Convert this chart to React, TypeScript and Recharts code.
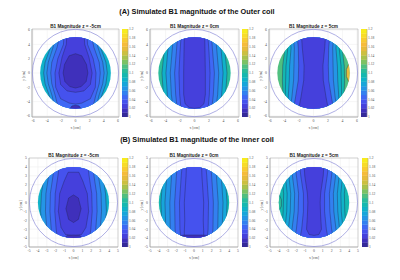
import React from 'react';
import {
  Bar,
  BarChart,
  CartesianGrid,
  Curve,
  ReferenceArea,
  Scatter,
  ScatterChart,
  XAxis,
  YAxis,
} from 'recharts';

type XY = [number, number];
interface Contour {
  level: number;
  half?: XY[]; // right side only, mirrored to the left
  full?: XY[];
}

// parula, one colour per 0.01 of B1 between 1.00 and 1.20
const PARULA = [
  '#352a9a', '#3f30bb', '#4540dc', '#4552ee', '#3f68f5', '#3380f0', '#2496e6',
  '#17a6da', '#10b2c8', '#14b8b0', '#2abc9c', '#50c080', '#7cc264', '#a8c24c',
  '#ccc040', '#e6bc3c', '#f6bc3a', '#f9cb32', '#f8dc28', '#f8ec1e', '#f9f914',
];
const BAR_TICKS = [1, 1.02, 1.04, 1.06, 1.08, 1.1, 1.12, 1.14, 1.16, 1.18, 1.2];
const OUTER_TICKS = [-6, -4, -2, 0, 2, 4, 6];
const INNER_TICKS = [-5, -4, -3, -2, -1, 0, 1, 2, 3, 4, 5];

// first quadrant of a unit circle, used for the coil outline and the disc
const QUARTER: XY[] = [
  [1, 0], [0.985, 0.174], [0.94, 0.342], [0.866, 0.5], [0.766, 0.643],
  [0.643, 0.766], [0.5, 0.866], [0.342, 0.94], [0.174, 0.985],
];

const OUTER_NEG: Contour[] = [
  { level: 1.06, half: [[2.9, 5.8], [3.6, 3.4], [4.3, 1.5], [4.5, 0], [4.3, -1.5], [3.7, -3.2], [3.0, -5.8]] },
  { level: 1.05, half: [[2.6, 5.8], [3.2, 3.5], [3.85, 1.5], [4.05, 0], [3.85, -1.5], [3.3, -3.2], [2.7, -5.8]] },
  { level: 1.04, half: [[2.1, 5.8], [2.6, 3.6], [3.35, 1.5], [3.5, 0], [3.35, -1.5], [2.85, -3.2], [2.2, -5.8]] },
  { level: 1.03, half: [[1.6, 5.8], [1.7, 4], [2.5, 2], [2.9, 0], [2.8, -2], [2.1, -3.6], [0.9, -4.2], [0, -4.35]] },
  { level: 1.02, half: [[1.2, 5.8], [1.3, 4], [1.9, 2.2], [2.35, 0], [2.1, -1.6], [1.2, -2.5], [0, -2.7]] },
  { level: 1.01, half: [[0, 2.7], [0.9, 2.4], [1.55, 1.2], [1.75, 0], [1.5, -1.2], [0.8, -1.9], [0, -2.1]] },
  { level: 1.01, half: [[0, -4.5], [0.5, -4.6], [0.8, -5], [0.8, -5.6], [0, -5.6]] },
];
const OUTER_MID: Contour[] = [
  { level: 1.08, half: [[3.9, 5.8], [4.2, 3], [4.5, 0], [4.3, -3], [3.9, -5.8]] },
  { level: 1.06, half: [[3.4, 5.8], [3.7, 3], [3.95, 0], [3.75, -3], [3.4, -5.8]] },
  { level: 1.05, half: [[2.85, 5.8], [3.1, 3], [3.35, 0], [3.2, -3], [2.85, -5.8]] },
  { level: 1.04, half: [[2.3, 5.8], [2.5, 3], [2.75, 0], [2.6, -3], [2.3, -5.8]] },
  { level: 1.03, half: [[1.8, 5.8], [2, 3], [2.15, 0], [2.05, -3], [1.8, -5.8]] },
  { level: 1.02, half: [[1.4, 5.8], [1.45, 3], [1.5, 0], [1.5, -3], [1.3, -4.3], [0.7, -4.85], [0, -4.95]] },
];
const OUTER_POS: Contour[] = [
  { level: 1.15, full: [[6, 2], [4.9, 1.3], [4.55, 0.5], [4.55, -0.5], [4.9, -1.3], [6, -2]] },
  { level: 1.09, half: [[4.1, 5.8], [3.95, 3.5], [4.25, 1], [4.3, -1], [4.2, -3.5], [4.4, -5.8]] },
  { level: 1.08, half: [[3.7, 5.8], [3.55, 3.5], [3.8, 1], [3.85, -1], [3.9, -3.5], [4.1, -5.8]] },
  { level: 1.06, half: [[3.3, 5.8], [3.1, 3.5], [3.3, 1], [3.35, -1], [3.5, -3.5], [3.8, -5.8]] },
  { level: 1.05, half: [[2.85, 5.8], [2.65, 3.5], [2.7, 1], [2.75, -1], [3, -3.5], [3.4, -5.8]] },
  { level: 1.03, half: [[2.3, 5.8], [2.1, 3.5], [2.05, 1], [2.1, -1], [2.5, -3.5], [2.9, -5.8]] },
  { level: 1.02, half: [[1.7, 5.8], [1.55, 3.5], [1.3, 1], [1.35, -1], [1.75, -3.5], [2.2, -5.8]] },
];
const INNER_NEG: Contour[] = [
  { level: 1.06, half: [[3.25, 4.6], [3.3, 3], [3.6, 1], [3.7, -1], [3.5, -3], [3.2, -4.6]] },
  { level: 1.05, half: [[2.75, 4.6], [2.8, 3], [3.1, 1], [3.15, -1], [3, -3], [2.7, -4.6]] },
  { level: 1.04, half: [[2.2, 4.6], [2.3, 3], [2.6, 1], [2.65, -1], [2.5, -3], [2.2, -4.6]] },
  { level: 1.03, half: [[1.55, 4.6], [1.75, 3], [2.05, 1], [2.1, -1], [1.95, -3], [1.7, -4.6]] },
  { level: 1.02, half: [[0, 3.4], [0.6, 3.4], [1.05, 2.4], [1.55, 1], [1.7, -1], [1.4, -2.8], [0.9, -3.6], [0, -3.75]] },
  { level: 1.01, half: [[0, 0.85], [0.55, 0.5], [0.85, -0.7], [0.55, -1.9], [0, -2.25]] },
  { level: 1.01, half: [[0, -3.65], [0.7, -3.7], [1.1, -4.05], [1.1, -4.8], [0, -4.8]] },
];
const INNER_MID: Contour[] = [
  { level: 1.07, half: [[3.4, 4.6], [3.55, 3], [3.75, 0], [3.65, -3], [3.4, -4.6]] },
  { level: 1.06, half: [[2.95, 4.6], [3.1, 3], [3.3, 0], [3.2, -3], [3, -4.6]] },
  { level: 1.05, half: [[2.4, 4.6], [2.55, 3], [2.75, 0], [2.7, -3], [2.5, -4.6]] },
  { level: 1.04, half: [[1.85, 4.6], [2, 3], [2.2, 0], [2.15, -3], [2, -4.6]] },
  { level: 1.03, half: [[1.3, 4.6], [1.45, 3], [1.65, 0], [1.6, -3], [1.45, -4.6]] },
  { level: 1.03, half: [[0.85, 4.6], [0.9, 3], [1.1, 0], [1.05, -2], [1.1, -3.3], [1.1, -4.6]] },
  { level: 1.01, half: [[0, -3.65], [0.9, -3.65], [1.5, -3.7], [1.6, -4.6], [0, -4.6]] },
];
const INNER_POS: Contour[] = [
  { level: 1.1, full: [[-4.8, 1.5], [-3.95, 0.9], [-3.7, 0.3], [-3.7, -0.4], [-3.95, -0.9], [-4.8, -1.5]] },
  { level: 1.08, half: [[3.8, 4.6], [3.65, 3], [3.45, 1], [3.5, -1], [3.65, -3], [3.9, -4.6]] },
  { level: 1.07, half: [[3.4, 4.6], [3.25, 3], [3.05, 1], [3.1, -1], [3.3, -3], [3.5, -4.6]] },
  { level: 1.06, half: [[3, 4.6], [2.85, 3], [2.65, 1], [2.7, -1], [2.9, -3], [3.1, -4.6]] },
  { level: 1.05, half: [[2.6, 4.6], [2.45, 3], [2.2, 1], [2.25, -1], [2.5, -3], [2.7, -4.6]] },
  { level: 1.04, half: [[2.15, 4.6], [2, 3], [1.75, 1], [1.8, -1], [2, -3], [2.3, -4.6]] },
  { level: 1.03, half: [[1.7, 4.6], [1.5, 3], [1.2, 1], [1.2, -1], [1.4, -3], [1.7, -4.6]] },
  { level: 1.02, half: [[1.15, 4.6], [1.05, 3], [0.75, 1], [0.7, 0], [0.75, -1.5], [0.85, -3], [0.55, -3.6], [0, -3.7]] },
];

const colorOf = (level: number) => PARULA[Math.round((level - 1) / 0.01)];

const circle = (r: number) => {
  const q2 = QUARTER.map(([x, y]) => [-y, x]);
  const half = [...QUARTER, ...q2];
  const all = [...half, ...half.map(([x, y]) => [-x, -y])];
  return all.map(([x, y]) => ({ x: x * r, y: y * r }));
};

const outline = (c: Contour) => {
  if (c.full) return c.full.map(([x, y]) => ({ x, y }));
  const right = c.half!;
  const left = [...right].reverse().map(([x, y]) => ({ x: -x, y }));
  return [...right.map(([x, y]) => ({ x, y })), ...left];
};

interface PanelProps {
  id: string;
  title: string;
  frame: number[]; // x, y, w, h of the axes box
  barX: number;
  limit: number;
  ticks: number[];
  discR: number;
  ringR: number;
  discLevel: number;
  contours: Contour[];
}

const LABEL = { fontSize: 3.8, fill: '#555' };

function Panel({ id, title, frame, barX, limit, ticks, discR, ringR, discLevel, contours }: PanelProps) {
  const [fx, fy, fw, fh] = frame;
  const axisW = 14;
  const pad = 3;
  const barRow: Record<string, number | string> = { name: 'scale', base: 1 };
  const segments = PARULA.slice(0, 20);
  segments.forEach((_, i) => {
    barRow[`s${i}`] = 0.01;
  });
  return (
    <>
      <div
        style={{
          position: 'absolute',
          left: fx,
          top: fy - 5.5,
          width: fw,
          textAlign: 'center',
          font: 'bold 4.7px Arial, "Liberation Sans", sans-serif',
          color: '#222',
          lineHeight: '5px',
          whiteSpace: 'nowrap',
        }}
      >
        {title}
      </div>
      <div style={{ position: 'absolute', left: fx - axisW, top: fy - pad }}>
        <ScatterChart
          width={fw + axisW + pad}
          height={fh + 14 + pad}
          margin={{ top: pad, right: pad, bottom: 0, left: 0 }}
        >
          <CartesianGrid stroke="#ececec" strokeWidth={0.5} />
          <XAxis
            type="number"
            dataKey="x"
            domain={[-limit, limit]}
            ticks={ticks}
            height={14}
            tickSize={0}
            tickMargin={2}
            tick={LABEL}
            stroke="#999"
            strokeWidth={0.5}
            interval={0}
            label={{ value: 'x [cm]', position: 'insideBottom', offset: 2, style: LABEL }}
          />
          <YAxis
            type="number"
            dataKey="y"
            domain={[-limit, limit]}
            ticks={ticks}
            width={axisW}
            tickSize={0}
            tickMargin={2}
            tick={LABEL}
            stroke="#999"
            strokeWidth={0.5}
            interval={0}
            label={{ value: 'y [cm]', angle: -90, position: 'insideLeft', offset: 6, dy: 8, style: LABEL }}
          />
          <Scatter
            data={circle(discR)}
            isAnimationActive={false}
            shape={() => <g />}
            line={(p: { points: { x: number; y: number }[] }) => {
              const pts = p.points.map((q) => `${q.x},${q.y}`).join(' ');
              return (
                <g>
                  <clipPath id={id}>
                    <polygon points={pts} />
                  </clipPath>
                  <polygon points={pts} fill={colorOf(discLevel)} />
                </g>
              );
            }}
          />
          {contours.map((c, i) => (
            <Scatter
              key={i}
              data={outline(c)}
              isAnimationActive={false}
              shape={() => <g />}
              line={(p: { points: { x: number; y: number }[] }) => (
                <g clipPath={`url(#${id})`}>
                  <Curve
                    points={p.points}
                    type="linearClosed"
                    fill={colorOf(c.level)}
                    stroke="#23234a"
                    strokeOpacity={0.75}
                    strokeWidth={0.5}
                  />
                </g>
              )}
            />
          ))}
          <Scatter
            data={circle(ringR)}
            isAnimationActive={false}
            shape={() => <g />}
            line={(p: { points: { x: number; y: number }[] }) => (
              <Curve points={p.points} type="linearClosed" fill="none" stroke="#8c8cd8" strokeWidth={0.7} />
            )}
          />
          <ReferenceArea
            x1={-limit}
            x2={limit}
            y1={-limit}
            y2={limit}
            fill="none"
            stroke="#aaa"
            strokeWidth={0.5}
          />
        </ScatterChart>
      </div>
      <div style={{ position: 'absolute', left: barX, top: fy - pad }}>
        <BarChart
          width={20}
          height={fh + pad * 2}
          data={[barRow]}
          barCategoryGap={0}
          margin={{ top: pad, right: 0, bottom: pad, left: 0 }}
        >
          <XAxis dataKey="name" hide />
          <YAxis
            orientation="right"
            domain={[1, 1.2]}
            ticks={BAR_TICKS}
            width={14}
            allowDataOverflow
            tickSize={0}
            tickMargin={1}
            interval={0}
            tick={{ fontSize: 3.6, fill: '#555' }}
            stroke="#999"
            strokeWidth={0.5}
          />
          <Bar dataKey="base" stackId="c" fill="none" isAnimationActive={false} />
          {segments.map((color, i) => (
            <Bar
              key={i}
              dataKey={`s${i}`}
              stackId="c"
              fill={color}
              stroke={color}
              strokeWidth={0.3}
              isAnimationActive={false}
            />
          ))}
        </BarChart>
      </div>
    </>
  );
}

const HEADING: React.CSSProperties = {
  position: 'absolute',
  left: 0,
  width: 394,
  textAlign: 'center',
  font: 'bold 7.3px Arial, "Liberation Sans", sans-serif',
  color: '#111',
  whiteSpace: 'nowrap',
};

export default function App() {
  return (
    <div
      style={{
        position: 'absolute',
        left: 0,
        top: 0,
        width: 400,
        height: 280,
        background: '#fff',
        overflow: 'hidden',
      }}
    >
      <div style={{ ...HEADING, top: 7 }}>(A) Simulated B1 magnitude of the Outer coil</div>
      <div style={{ ...HEADING, top: 135 }}>(B) Simulated B1 magnitude of the inner coil</div>
      <Panel id="a1" title="B1 Magnitude z = -5cm" frame={[32, 29, 87, 88]} barX={122} limit={6.15} ticks={OUTER_TICKS} discR={5} ringR={6.1} discLevel={1.08} contours={OUTER_NEG} />
      <Panel id="a2" title="B1 Magnitude z = 0cm" frame={[150, 29, 89, 88]} barX={242} limit={6.15} ticks={OUTER_TICKS} discR={5} ringR={6.1} discLevel={1.1} contours={OUTER_MID} />
      <Panel id="a3" title="B1 Magnitude z = 5cm" frame={[269, 29, 89, 88]} barX={361} limit={6.15} ticks={OUTER_TICKS} discR={5} ringR={6.1} discLevel={1.11} contours={OUTER_POS} />
      <Panel id="b1" title="B1 Magnitude z = -5cm" frame={[29, 158, 89, 89]} barX={122} limit={5} ticks={INNER_TICKS} discR={4} ringR={4.95} discLevel={1.08} contours={INNER_NEG} />
      <Panel id="b2" title="B1 Magnitude z = 0cm" frame={[150, 158, 88, 89]} barX={242} limit={5} ticks={INNER_TICKS} discR={4} ringR={4.95} discLevel={1.09} contours={INNER_MID} />
      <Panel id="b3" title="B1 Magnitude z = 5cm" frame={[270, 158, 88, 89]} barX={362} limit={5} ticks={INNER_TICKS} discR={4} ringR={4.95} discLevel={1.09} contours={INNER_POS} />
    </div>
  );
}
